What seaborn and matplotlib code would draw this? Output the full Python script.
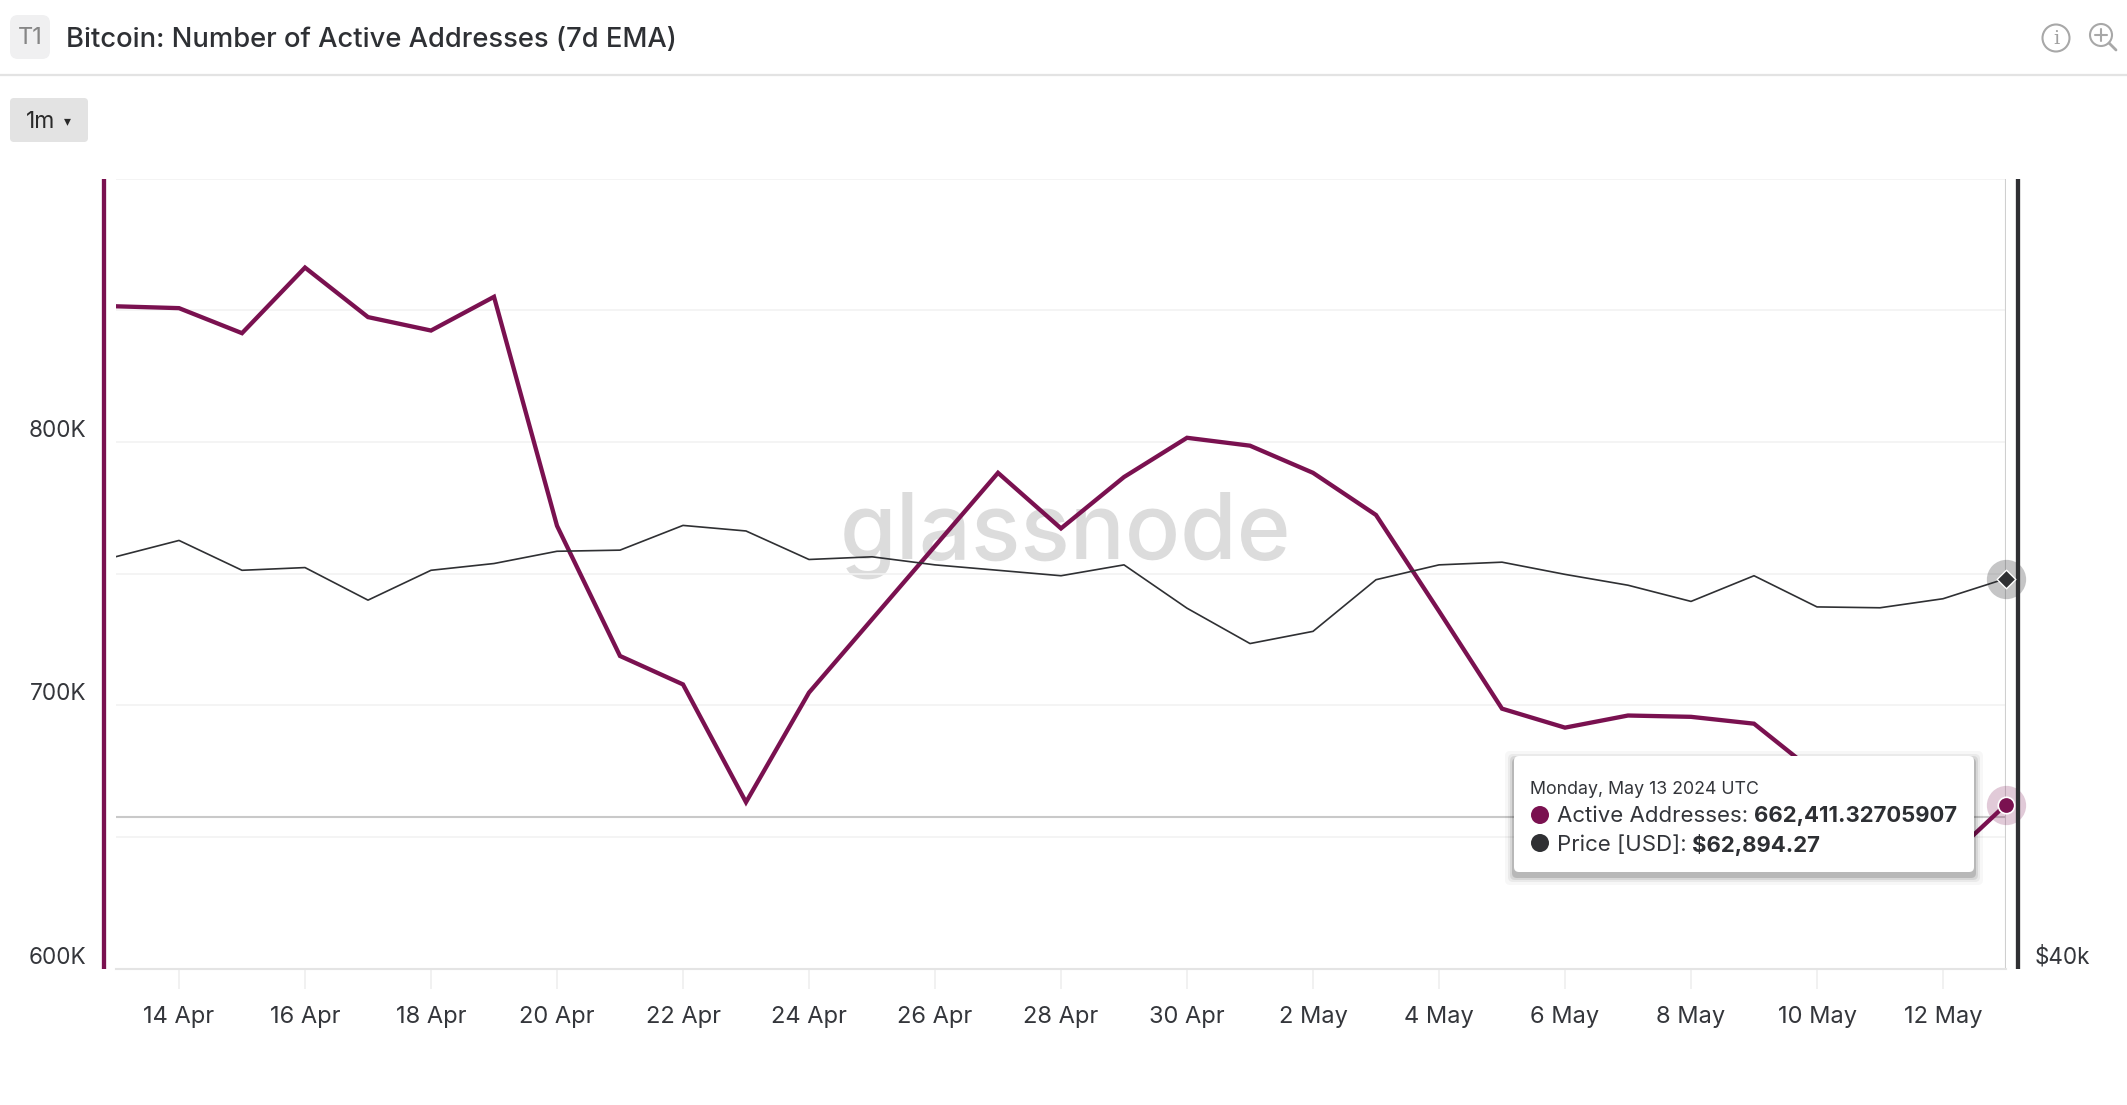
import pandas as pd
import numpy as np
import matplotlib
matplotlib.use("Agg")
import matplotlib.pyplot as plt
from matplotlib.patches import FancyBboxPatch, Circle
from matplotlib.ticker import NullLocator
import seaborn as sns

W, H = 2127, 1105

dates = pd.date_range("2024-04-13", "2024-05-13")
active_addresses = [851500, 850800, 841300, 866200, 847400, 842300, 855100, 768200,
                    718800, 708000, 663300, 704900, 732700, 760500, 788300, 767200,
                    786700, 801600, 798600, 788300, 772300, 735800, 698800, 691600,
                    696200, 695700, 693100, 674000, 645000, 640000, 662411]
price_usd = [64510, 65735, 63500, 63700, 61340, 63500, 64000, 64915,
             65000, 66890, 66460, 64300, 64500, 63900, 63500, 63100,
             63900, 60770, 58330, 59160, 62810, 63900, 64100, 63200,
             62410, 61250, 63100, 60860, 60800, 61440, 62894]
crosshair_value = 657500

x_tick_labels = ["14 Apr", "16 Apr", "18 Apr", "20 Apr", "22 Apr", "24 Apr", "26 Apr", "28 Apr",
                 "30 Apr", "2 May", "4 May", "6 May", "8 May", "10 May", "12 May"]
y_ticks = [600000, 650000, 700000, 750000, 800000, 850000, 900000]
y_tick_labels = ["600K", "", "700K", "", "800K", "", ""]

title = "Bitcoin: Number of Active Addresses (7d EMA)"
tooltip_date = "Monday, May 13 2024 UTC"
tooltip_active = "662,411.32705907"
tooltip_price = "$62,894.27"

PURPLE = "#7a1150"
DARK = "#2f3033"
TEXT = "#34363b"

sns.set_theme(style="white")
plt.rcParams["font.family"] = ["Inter", "DejaVu Sans"]

df = pd.DataFrame({"date": dates, "active": active_addresses, "price": price_usd})

fig = plt.figure(figsize=(W / 100, H / 100), dpi=100, facecolor="white")

#main chart
left, right, top, bottom = 116, 2006, 178.5, 969
ax = fig.add_axes([left / W, 1 - bottom / H, (right - left) / W, (bottom - top) / H])
ax2 = ax.twinx()
ax.set_zorder(2)
ax2.set_zorder(3)
ax.patch.set_visible(False)
ax2.patch.set_visible(False)

#spines first, moving them resets the ticks
for a in (ax, ax2):
    for s in a.spines.values():
        s.set_visible(False)
ax.spines["bottom"].set_visible(True)
ax.spines["bottom"].set_color("#e4e4e4")
ax.spines["bottom"].set_linewidth(1.5)
ax.spines["left"].set_visible(True)
ax.spines["left"].set_color(PURPLE)
ax.spines["left"].set_linewidth(3.1)
ax.spines["left"].set_position(("outward", 8.6))
ax.spines["left"].set_capstyle("butt")
ax2.spines["right"].set_visible(True)
ax2.spines["right"].set_color(DARK)
ax2.spines["right"].set_linewidth(3.1)
ax2.spines["right"].set_position(("outward", 8.6))
ax2.spines["right"].set_capstyle("butt")

sns.lineplot(data=df, x="date", y="active", ax=ax, color=PURPLE, linewidth=3.1, legend=False,
             zorder=4, solid_joinstyle="miter")
sns.lineplot(data=df, x="date", y="price", ax=ax2, color=DARK, linewidth=1.2, legend=False, zorder=3)

ax.set_xlim(dates[0], dates[-1])
ax.set_ylim(600000, 900000)
ax2.set_yscale("log")
ax2.set_ylim(40000, 100000)
ax.set_xlabel("")
ax.set_ylabel("")
ax2.set_xlabel("")
ax2.set_ylabel("")

ax.set_yticks(y_ticks)
ax.set_yticklabels(y_tick_labels, fontsize=16.2, color=TEXT, va="bottom")
ax.tick_params(axis="y", length=0, pad=13)
ax.grid(axis="y", color="#f2f2f2", linewidth=1.2)
ax.set_axisbelow(True)

ax.set_xticks(dates[1::2])
ax.set_xticklabels(x_tick_labels, fontsize=17, color=TEXT)
ax.tick_params(axis="x", length=14.4, width=1.2, color="#efefef", pad=12, bottom=True)

ax2.yaxis.set_major_locator(plt.FixedLocator([40000]))
ax2.yaxis.set_minor_locator(NullLocator())
ax2.set_yticklabels(["$40k"], fontsize=16.2, color=TEXT, va="bottom")
ax2.tick_params(axis="y", length=0, pad=12)
ax2.grid(False)

#crosshair
ax.axhline(crosshair_value, color="#c9c9c9", linewidth=1.5, zorder=2)
ax.axvline(dates[-1], color="#cfcfcf", linewidth=1.5, zorder=2)

#end markers
ax.scatter(dates[-1], active_addresses[-1], s=800, color=PURPLE, alpha=0.22, linewidth=0, clip_on=False, zorder=5)
ax.scatter(dates[-1], active_addresses[-1], s=140, color=PURPLE, edgecolor="white", linewidth=1.2, clip_on=False, zorder=6)
ax2.scatter(dates[-1], price_usd[-1], s=800, color=DARK, alpha=0.28, linewidth=0, clip_on=False, zorder=5)
ax2.scatter(dates[-1], price_usd[-1], s=90, marker="D", color=DARK, edgecolor="white", linewidth=1.0, clip_on=False, zorder=6)

#page furniture in pixel coordinates
bg = fig.add_axes([0, 0, 1, 1], zorder=1)
bg.set_xlim(0, W)
bg.set_ylim(H, 0)
bg.axis("off")
bg.text(1065, 535, "glassnode", fontsize=66, fontweight="medium", color="#dcdcdc",
        ha="center", va="center")

ov = fig.add_axes([0, 0, 1, 1], zorder=10)
ov.set_xlim(0, W)
ov.set_ylim(H, 0)
ov.axis("off")
ov.patch.set_visible(False)

ov.plot([0, W], [75, 75], color="#e3e3e3", linewidth=1.6)
ov.add_patch(FancyBboxPatch((14, 19), 32, 36, boxstyle="round,pad=4,rounding_size=8", fc="#f0f0f1", ec="none"))
ov.text(30, 38, "T1", fontsize=17, color="#868686", ha="center", va="center")
ov.text(66, 40, title, fontsize=19.7, color="#2e3034", fontweight="medium", ha="left", va="center")

ov.add_patch(FancyBboxPatch((14, 102), 70, 36, boxstyle="round,pad=4,rounding_size=4", fc="#e3e3e3", ec="none"))
ov.text(26, 121.5, "1m", fontsize=16.5, color="#2a2a2a", ha="left", va="center")
ov.text(67, 121, "▾", fontsize=10, color="#2a2a2a", ha="center", va="center")

ov.add_patch(Circle((2056, 38), 13.5, fc="none", ec="#a8a8a8", lw=1.5))
ov.text(2056, 39, "i", fontsize=14, family="DejaVu Serif", color="#a0a0a0", ha="center", va="center")
ov.add_patch(Circle((2101, 35), 11, fc="none", ec="#a8a8a8", lw=1.5))
ov.plot([2095, 2107], [35, 35], color="#a8a8a8", lw=1.5)
ov.plot([2101, 2101], [29, 41], color="#a8a8a8", lw=1.5)
ov.plot([2109, 2116], [43, 50], color="#a8a8a8", lw=2)

#tooltip with a soft shadow
for grow, alpha in zip([9, 6, 4, 2], [0.03, 0.05, 0.08, 0.14]):
    ov.add_patch(FancyBboxPatch((1518 - grow, 760 + 4 - grow), 452 + 2 * grow, 108 + 2 * grow,
                                boxstyle="round,pad=4,rounding_size=5", fc="black", ec="none", alpha=alpha))
ov.add_patch(FancyBboxPatch((1518, 760), 452, 108, boxstyle="round,pad=4,rounding_size=5", fc="white", ec="none"))
ov.text(1530, 790, tooltip_date, fontsize=12.8, color="#33353a", ha="left", va="center")
ov.add_patch(Circle((1540, 815), 9, fc=PURPLE, ec="none"))
ov.add_patch(Circle((1540, 843), 9, fc=DARK, ec="none"))
ov.text(1557, 816.5, "Active Addresses:", fontsize=16, color="#33353a", ha="left", va="center")
ov.text(1557, 844.5, "Price [USD]:", fontsize=16, color="#33353a", ha="left", va="center")
ov.text(1754, 816.5, tooltip_active, fontsize=15.9, color="#2d2f33", fontweight="bold", ha="left", va="center")
ov.text(1692, 844.5, tooltip_price, fontsize=15.9, color="#2d2f33", fontweight="bold", ha="left", va="center")

fig.savefig("out.png", dpi=100, facecolor="white")
